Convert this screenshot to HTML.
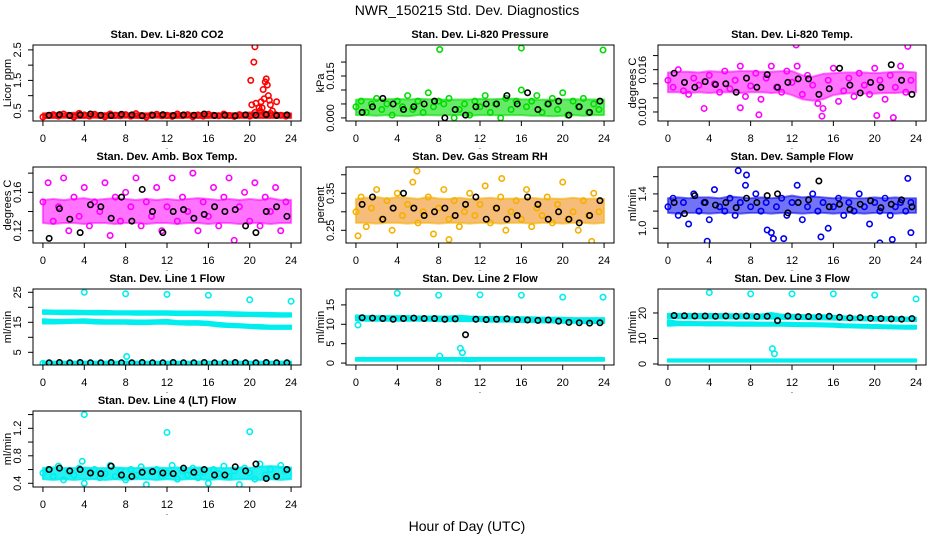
<!DOCTYPE html>
<html><head><meta charset="utf-8">
<style>
html,body{margin:0;padding:0;background:#fff;}
svg{display:block;font-family:"Liberation Sans",Arial,sans-serif;}
</style></head>
<body>
<svg id="chart" width="936" height="540" viewBox="0 0 936 540" xmlns="http://www.w3.org/2000/svg">
<text x="467" y="15" font-size="14" text-anchor="middle">NWR_150215  Std. Dev. Diagnostics</text>
<text x="467" y="531" font-size="14" text-anchor="middle">Hour of Day (UTC)</text>
</svg>
<script>
// ---------- data ----------
const xTicks = [0,4,8,12,16,20,24];
const xTickLabels = ["0","4","8","12","16","20","24"];

const co2Red = [0.3,0.35,0.38,0.33,0.4,0.36,0.3,0.42,0.37,0.33,0.39,0.35,0.31,0.4,0.36,0.34,0.38,0.33,0.41,0.35,0.3,0.37,0.39,0.34,0.36,0.32,0.4,0.35,0.38,0.31,0.37,0.33,0.39,0.36,0.34,0.4,0.35,0.32,0.38,0.36,0.33,0.45,0.5,0.4,0.42,0.38,0.36,0.33];
const co2Black = [0.36,0.38,0.35,0.37,0.4,0.36,0.35,0.39,0.37,0.34,0.36,0.38,0.35,0.37,0.36,0.4,0.35,0.36,0.34,0.37,0.36,0.38,0.35,0.37];
const co2BandLo = [0.27,0.27,0.28,0.27,0.27,0.28,0.27,0.27,0.28,0.27,0.27,0.28,0.27,0.27,0.28,0.27,0.27,0.28,0.27,0.27,0.28,0.27,0.27,0.28,0.27];
const co2BandHi = [0.42,0.43,0.42,0.44,0.43,0.42,0.43,0.44,0.42,0.43,0.42,0.43,0.42,0.43,0.42,0.43,0.43,0.42,0.43,0.42,0.45,0.46,0.44,0.43,0.42];
const co2OutHours = [20.1,20.2,20.4,20.5,20.6,20.9,21.1,21.3,21.5,21.6,21.7,21.8,21.9,22.0,22.2,22.6,21.4,21.2];
const co2OutVals = [1.5,0.7,2.1,2.6,0.75,0.6,0.8,1.2,1.45,1.55,1.35,1.0,0.85,0.7,0.5,0.8,0.9,0.6];
const co2YTicks = [0.5,1.0,1.5,2.0,2.5];
const co2YLabels = ["0.5","","1.5","","2.5"];

const presGreen = [0.004,0.006,0.002,0.005,0.007,0.003,0.005,0.001,0.006,0.004,0.008,0.003,0.006,0.002,0.009,0.004,0.006,0.005,0.007,0.0,0.003,0.005,0.001,0.006,0.004,0.008,0.002,0.005,0.0,0.007,0.003,0.006,0.01,0.004,0.006,0.008,0.002,0.005,0.007,0.003,0.009,0.001,0.006,0.004,0.007,0.002,0.005,0.003];
const presBlack = [0.002,0.004,0.007,0.005,0.003,0.004,0.005,0.006,0.0,0.003,0.001,0.004,0.005,0.005,0.008,0.005,0.009,0.003,0.005,0.006,0.001,0.004,0.002,0.006];
const presBandLo = [0.001,0.001,0.0008,0.001,0.0008,0.0006,0.001,0.001,0.0009,0.001,0.001,0.0008,0.001,0.001,0.0009,0.001,0.001,0.0008,0.0008,0.0006,0.0008,0.001,0.0008,0.001,0.001];
const presBandHi = [0.0065,0.0068,0.0066,0.0067,0.0068,0.0066,0.0068,0.0067,0.0066,0.0065,0.0066,0.0066,0.0068,0.0067,0.0068,0.0069,0.0067,0.0066,0.0065,0.0065,0.0066,0.0067,0.0066,0.0066,0.0066];
const presOutHours = [8.1,16,23.9];
const presOutVals = [0.0245,0.025,0.0243];
const presYTicks = [0.0,0.005,0.010,0.015,0.020];
const presYLabels = ["0.000","","","0.015",""];

const tempMag = [0.0145,0.0135,0.016,0.013,0.0125,0.0148,0.0138,0.0105,0.0152,0.014,0.0128,0.0158,0.0133,0.0145,0.0165,0.0122,0.0137,0.0155,0.0118,0.0148,0.0165,0.0135,0.0128,0.0158,0.0142,0.0165,0.0125,0.0152,0.0138,0.0112,0.0105,0.0145,0.0162,0.0115,0.013,0.0148,0.0122,0.0155,0.0138,0.0125,0.0162,0.0145,0.0118,0.0152,0.0135,0.0165,0.0128,0.0145];
const tempBlack = [0.0155,0.0142,0.0135,0.0143,0.0139,0.014,0.0128,0.0148,0.0135,0.0153,0.0135,0.0142,0.0147,0.0147,0.0125,0.0133,0.0162,0.0138,0.0127,0.0142,0.0135,0.0167,0.0145,0.0125];
const tempBandLo = [0.0128,0.0128,0.0127,0.0128,0.0127,0.0128,0.0128,0.0127,0.0128,0.0128,0.0127,0.0128,0.0124,0.0118,0.0116,0.0118,0.0124,0.0126,0.0127,0.0126,0.0126,0.0127,0.0127,0.0128,0.0128];
const tempBandHi = [0.0156,0.0157,0.0157,0.0156,0.0158,0.0157,0.0157,0.0158,0.0158,0.0157,0.0157,0.0158,0.0158,0.0152,0.015,0.0154,0.0155,0.0156,0.0156,0.0156,0.0155,0.0156,0.0157,0.0157,0.0156];
const tempOutHours = [12.4,23.2,21.8,20.2,8.8,14.9,7.0];
const tempOutVals = [0.0195,0.0193,0.0092,0.0095,0.0096,0.0094,0.0106];
const tempYTicks = [0.010,0.012,0.014,0.016,0.018];
const tempYLabels = ["0.010","","","0.016",""];

const ambMag = [0.15,0.17,0.13,0.145,0.175,0.12,0.155,0.135,0.165,0.125,0.15,0.14,0.17,0.115,0.155,0.13,0.16,0.145,0.175,0.125,0.15,0.135,0.165,0.12,0.145,0.175,0.13,0.155,0.14,0.18,0.12,0.15,0.135,0.165,0.125,0.155,0.175,0.11,0.145,0.16,0.13,0.17,0.125,0.155,0.14,0.165,0.12,0.15];
const ambBlack = [0.112,0.143,0.132,0.118,0.147,0.145,0.133,0.155,0.13,0.163,0.14,0.118,0.14,0.142,0.133,0.137,0.145,0.14,0.142,0.125,0.118,0.14,0.145,0.135];
const ambBandLo = [0.128,0.127,0.128,0.128,0.127,0.128,0.128,0.127,0.128,0.128,0.127,0.128,0.128,0.127,0.128,0.128,0.127,0.128,0.128,0.127,0.128,0.128,0.127,0.128,0.128];
const ambBandHi = [0.152,0.153,0.152,0.153,0.154,0.152,0.153,0.154,0.153,0.152,0.153,0.152,0.153,0.152,0.153,0.154,0.153,0.152,0.153,0.152,0.153,0.152,0.154,0.152,0.152];
const ambYTicks = [0.12,0.14,0.16,0.18];
const ambYLabels = ["0.12","","0.16",""];

const rhOrange = [0.3,0.34,0.26,0.31,0.36,0.28,0.33,0.25,0.35,0.29,0.32,0.38,0.27,0.3,0.34,0.24,0.31,0.36,0.28,0.33,0.26,0.3,0.35,0.29,0.32,0.37,0.27,0.31,0.34,0.25,0.3,0.33,0.28,0.36,0.26,0.31,0.29,0.34,0.27,0.32,0.38,0.28,0.3,0.25,0.33,0.29,0.35,0.3];
const rhBlack = [0.32,0.34,0.28,0.31,0.35,0.31,0.29,0.3,0.31,0.29,0.32,0.34,0.28,0.31,0.28,0.29,0.34,0.32,0.28,0.3,0.28,0.27,0.29,0.33];
const rhBandLo = [0.27,0.27,0.268,0.27,0.27,0.268,0.27,0.27,0.268,0.27,0.27,0.268,0.27,0.27,0.268,0.27,0.27,0.268,0.27,0.27,0.268,0.27,0.27,0.268,0.27];
const rhBandHi = [0.335,0.338,0.34,0.335,0.34,0.338,0.335,0.34,0.336,0.335,0.338,0.335,0.336,0.338,0.335,0.336,0.335,0.338,0.335,0.336,0.335,0.338,0.335,0.336,0.335];
const rhOutHours = [0.2,9.0,22.8,14.1,5.9];
const rhOutVals = [0.235,0.225,0.22,0.39,0.41];
const rhYTicks = [0.25,0.30,0.35,0.40];
const rhYLabels = ["0.25","","0.35",""];

const flowBlue = [1.25,1.35,1.15,1.3,1.05,1.4,1.2,1.3,1.1,1.45,1.25,1.2,1.35,1.15,1.3,1.5,1.25,1.4,1.2,1.3,0.95,1.25,1.35,1.15,1.3,1.5,1.1,1.25,1.4,1.2,1.3,1.0,1.25,1.35,1.15,1.3,1.2,1.4,1.25,1.05,1.3,1.2,1.35,1.15,1.25,1.3,1.2,1.3];
const flowBlack = [1.3,1.17,1.38,1.3,1.27,1.3,1.24,1.35,1.3,1.38,1.4,1.18,1.3,1.33,1.55,1.25,1.28,1.22,1.28,1.32,1.24,1.28,1.33,1.25];
const flowBandLo = [1.18,1.17,1.18,1.18,1.17,1.18,1.18,1.17,1.18,1.18,1.17,1.18,1.18,1.17,1.18,1.18,1.17,1.18,1.18,1.17,1.18,1.18,1.17,1.18,1.18];
const flowBandHi = [1.35,1.36,1.35,1.36,1.36,1.35,1.37,1.36,1.35,1.36,1.35,1.36,1.38,1.36,1.37,1.36,1.35,1.36,1.35,1.35,1.36,1.35,1.36,1.35,1.35];
const flowOutHours = [3.8,6.8,7.6,9.6,10.2,11.2,14.8,20.5,21.7,23.2,23.5];
const flowOutVals = [0.85,1.67,1.62,0.98,0.88,0.88,0.9,0.83,0.87,1.58,0.95];
const flowYTicks = [1.0,1.2,1.4,1.6];
const flowYLabels = ["1.0","","1.4",""];

const l1TopLo = [17.8,17.8,17.7,17.7,17.7,17.6,17.6,17.6,17.6,17.5,17.5,17.5,17.5,17.4,17.4,17.4,17.3,17.3,17.2,17.1,17.1,17.0,16.9,16.9,16.9];
const l1TopHi = [19.0,18.9,18.9,18.9,18.8,18.8,18.8,18.7,18.7,18.7,18.7,18.7,18.7,18.6,18.6,18.6,18.5,18.5,18.4,18.3,18.2,18.2,18.1,18.0,18.0];
const l1MidLo = [14.6,14.6,14.7,14.8,14.8,14.6,14.5,14.5,14.5,14.4,14.4,14.5,14.5,14.3,14.2,14.2,14.0,13.6,13.4,13.3,13.1,12.9,12.8,12.8,12.8];
const l1MidHi = [16.0,15.8,15.8,15.9,16.0,15.8,15.7,15.7,15.7,15.6,15.6,15.7,15.8,15.4,15.4,15.4,15.2,14.8,14.5,14.4,14.2,14.1,13.9,13.9,13.9];
const l1LowLo = [1.0,1.0,1.0,1.0,1.0,1.0,1.0,1.0,1.0,1.0,1.0,1.0,1.0,1.0,1.0,1.0,1.0,1.0,1.0,1.0,1.0,1.0,1.0,1.0,1.0];
const l1LowHi = [1.9,1.9,1.9,1.9,1.9,1.9,1.9,1.9,1.9,1.9,1.9,1.9,1.9,1.9,1.9,1.9,1.9,1.9,1.9,1.9,1.9,1.9,1.9,1.9,1.9];
const l1OutHours = [4,8,12,16,20,24,8.1,0];
const l1OutVals = [25,24.5,24.3,24,22.5,22,3.6,1.3];
const l1Black = [1.5,1.6,1.5,1.6,1.5,1.5,1.6,1.5,1.5,1.6,1.5,1.5,1.6,1.5,1.5,1.6,1.5,1.5,1.6,1.5,1.5,1.6,1.5,1.5];
const l1YTicks = [5,10,15,20,25];
const l1YLabels = ["5","","15","","25"];

const l2TopLo = [11.0,10.9,10.9,10.9,10.9,10.9,10.9,10.9,10.8,10.8,10.8,10.8,10.8,10.7,10.7,10.7,10.6,10.6,10.5,10.5,10.4,10.4,10.3,10.3,10.3];
const l2TopHi = [12.3,12.1,12.1,12.1,12.1,12.1,12.0,12.0,12.0,12.0,12.2,12.0,11.9,11.9,11.9,11.8,11.8,11.8,11.7,11.7,11.7,11.6,11.6,11.6,11.6];
const l2LowLo = [0.6,0.6,0.6,0.6,0.6,0.6,0.6,0.6,0.6,0.6,0.6,0.5,0.6,0.6,0.6,0.6,0.6,0.6,0.6,0.6,0.6,0.6,0.6,0.6,0.6];
const l2LowHi = [1.3,1.3,1.3,1.3,1.3,1.3,1.3,1.3,1.3,1.3,1.3,1.3,1.3,1.3,1.3,1.3,1.3,1.3,1.3,1.3,1.3,1.3,1.3,1.3,1.3];
const l2OutHours = [4,8,12,16,20,23.9,10.1,10.3,0.2,8.1];
const l2OutVals = [18,17.5,17.6,17.5,17,17,3.8,2.7,9.8,1.8];
const l2Black = [11.7,11.6,11.5,11.3,11.5,11.6,11.5,11.5,11.3,11.4,7.3,11.3,11.2,11.3,11.4,11.2,11.1,11.0,11.1,10.8,10.5,10.4,10.3,10.4];
const l2YTicks = [0,5,10,15];
const l2YLabels = ["0","5","10","15"];

const l3TopLo = [18.0,18.0,17.9,17.9,17.9,17.9,17.9,17.9,17.8,17.8,17.8,17.7,17.7,17.6,17.5,17.5,17.4,17.3,17.2,17.1,17.0,17.0,16.9,16.8,16.8];
const l3TopHi = [19.7,19.6,19.6,19.6,19.6,19.6,19.5,19.5,19.5,19.4,20.0,19.3,19.3,19.2,19.1,19.1,18.9,18.7,18.6,18.5,18.4,18.4,18.3,18.2,18.2];
const l3MidLo = [15.0,15.2,15.2,15.2,15.1,15.1,15.1,15.0,15.0,15.0,15.0,15.0,14.9,14.8,14.8,14.7,14.6,14.4,14.3,14.2,14.1,14.0,13.9,13.8,13.8];
const l3MidHi = [17.2,16.5,16.5,16.4,16.4,16.4,16.3,16.3,16.3,16.2,16.2,16.2,16.1,16.0,16.0,15.9,15.8,15.6,15.5,15.4,15.3,15.2,15.1,15.0,15.0];
const l3LowLo = [0.9,0.9,0.9,0.9,0.9,0.9,0.9,0.9,0.9,0.9,0.9,0.9,0.9,0.9,0.9,0.9,0.9,0.9,0.9,0.9,0.9,0.9,0.9,0.9,0.9];
const l3LowHi = [1.8,1.8,1.8,1.8,1.8,1.8,1.8,1.8,1.8,1.8,1.8,1.8,1.8,1.8,1.8,1.8,1.8,1.8,1.8,1.8,1.8,1.8,1.8,1.8,1.8];
const l3OutHours = [4,8,12,16,20,24,10.1,10.3];
const l3OutVals = [28,27.5,27.5,27.5,27,25.5,6,4];
const l3Black = [19,18.9,18.8,18.8,18.7,18.8,18.7,18.8,18.6,18.7,17,18.8,18.5,18.6,18.6,18.7,18.3,18.1,18.2,17.9,17.8,17.7,17.6,17.8];
const l3YTicks = [0,10,20,30];
const l3YLabels = ["0","10","20",""];

const l4Cyan = [0.55,0.6,0.5,0.65,0.45,0.58,0.52,0.62,0.4,0.56,0.6,0.48,0.54,0.66,0.5,0.58,0.45,0.6,0.52,0.64,0.38,0.56,0.6,0.5,0.55,0.66,0.46,0.58,0.52,0.62,0.48,0.56,0.4,0.6,0.54,0.65,0.5,0.58,0.38,0.62,0.55,0.46,0.68,0.52,0.6,0.5,0.66,0.58];
const l4Black = [0.6,0.62,0.58,0.6,0.55,0.54,0.65,0.52,0.5,0.56,0.57,0.55,0.54,0.62,0.56,0.6,0.52,0.52,0.64,0.58,0.68,0.47,0.5,0.6];
const l4BandLo = [0.46,0.45,0.46,0.45,0.46,0.46,0.45,0.46,0.45,0.46,0.46,0.45,0.46,0.45,0.46,0.46,0.45,0.46,0.45,0.46,0.46,0.45,0.46,0.45,0.46];
const l4BandHi = [0.62,0.63,0.62,0.62,0.63,0.62,0.62,0.63,0.62,0.62,0.62,0.63,0.62,0.63,0.62,0.63,0.62,0.62,0.62,0.63,0.62,0.64,0.65,0.64,0.63];
const l4OutHours = [4,12,20,3.8];
const l4OutVals = [1.4,1.14,1.15,0.72];
const l4YTicks = [0.4,0.6,0.8,1.0,1.2,1.4];
const l4YLabels = ["0.4","","0.8","","1.2",""];

// ---------- layout (not data) ----------
const colLeft = [33, 346, 658];
const rowTop = [45, 167, 289, 411];
const boxW = 268, boxH = 76;

const panels = [
 {name:"co2", title:"Stan. Dev. Li-820 CO2", ylab:"Licor ppm", c:0, r:0, y0:0.17, y1:2.66, color:"#ff0000", op:0.8,
  bands:[[co2BandLo,co2BandHi]], main:co2Red, outH:co2OutHours, outV:co2OutVals, black:co2Black, yt:co2YTicks, yl:co2YLabels},
 {name:"pressure", title:"Stan. Dev. Li-820 Pressure", ylab:"kPa", c:1, r:0, y0:-0.0011, y1:0.0261, color:"#00dd00", op:0.6,
  bands:[[presBandLo,presBandHi]], main:presGreen, outH:presOutHours, outV:presOutVals, black:presBlack, yt:presYTicks, yl:presYLabels},
 {name:"temp", title:"Stan. Dev. Li-820 Temp.", ylab:"degrees C", c:2, r:0, y0:0.00872, y1:0.0195, color:"#ff00ff", op:0.55,
  bands:[[tempBandLo,tempBandHi]], main:tempMag, outH:tempOutHours, outV:tempOutVals, black:tempBlack, yt:tempYTicks, yl:tempYLabels},
 {name:"amb-box-temp", title:"Stan. Dev. Amb. Box Temp.", ylab:"degrees C", c:0, r:1, y0:0.1072, y1:0.1864, color:"#ff00ff", op:0.55,
  bands:[[ambBandLo,ambBandHi]], main:ambMag, outH:[], outV:[], black:ambBlack, yt:ambYTicks, yl:ambYLabels},
 {name:"gas-rh", title:"Stan. Dev. Gas Stream RH", ylab:"percent", c:1, r:1, y0:0.2157, y1:0.421, color:"#f5b000", fill:"#f09020", op:0.6,
  bands:[[rhBandLo,rhBandHi]], main:rhOrange, outH:rhOutHours, outV:rhOutVals, black:rhBlack, yt:rhYTicks, yl:rhYLabels},
 {name:"sample-flow", title:"Stan. Dev. Sample Flow", ylab:"ml/min", c:2, r:1, y0:0.829, y1:1.713, color:"#0000ee", op:0.55,
  bands:[[flowBandLo,flowBandHi]], main:flowBlue, outH:flowOutHours, outV:flowOutVals, black:flowBlack, yt:flowYTicks, yl:flowYLabels},
 {name:"line1-flow", title:"Stan. Dev. Line 1 Flow", ylab:"ml/min", c:0, r:2, y0:0.77, y1:26.1, color:"#00eeee", op:1,
  bands:[[l1TopLo,l1TopHi],[l1MidLo,l1MidHi],[l1LowLo,l1LowHi]], main:[], outH:l1OutHours, outV:l1OutVals, black:l1Black, yt:l1YTicks, yl:l1YLabels},
 {name:"line2-flow", title:"Stan. Dev. Line 2 Flow", ylab:"ml/min", c:1, r:2, y0:-0.5, y1:19.1, color:"#00eeee", op:1,
  bands:[[l2TopLo,l2TopHi],[l2LowLo,l2LowHi]], main:[], outH:l2OutHours, outV:l2OutVals, black:l2Black, yt:l2YTicks, yl:l2YLabels},
 {name:"line3-flow", title:"Stan. Dev. Line 3 Flow", ylab:"ml/min", c:2, r:2, y0:-0.4, y1:29.4, color:"#00eeee", op:1,
  bands:[[l3TopLo,l3TopHi],[l3MidLo,l3MidHi],[l3LowLo,l3LowHi]], main:[], outH:l3OutHours, outV:l3OutVals, black:l3Black, yt:l3YTicks, yl:l3YLabels},
 {name:"line4-flow", title:"Stan. Dev. Line 4 (LT) Flow", ylab:"ml/min", c:0, r:3, y0:0.346, y1:1.452, color:"#00eeee", op:0.85,
  bands:[[l4BandLo,l4BandHi]], main:l4Cyan, outH:l4OutHours, outV:l4OutVals, black:l4Black, yt:l4YTicks, yl:l4YLabels}
];

const NS = "http://www.w3.org/2000/svg";
const svg = document.getElementById("chart");
function mk(tag, attrs, parent){
  const e = document.createElementNS(NS, tag);
  for (const k in attrs) e.setAttribute(k, attrs[k]);
  (parent||svg).appendChild(e);
  return e;
}

panels.forEach(p => {
  const L = colLeft[p.c], T = rowTop[p.r], B = T + boxH, R = L + boxW;
  const xs = h => L + (h + 0.96) / 25.92 * boxW;
  const ys = v => B - (v - p.y0) / (p.y1 - p.y0) * boxH;

  const g = mk("g", {});
  
  

  const t = mk("text", {x:(L+R)/2, y:T-7, "font-size":11, "font-weight":"bold", "text-anchor":"middle"}, g);
  t.textContent = p.title;
  
  

  const clip = mk("clipPath", {id:"clip-"+p.name}, g);
  mk("rect", {x:L, y:T, width:boxW, height:boxH}, clip);
  const plot = mk("g", {"clip-path":"url(#clip-"+p.name+")"}, g);
  
  

  // dense bands
  p.bands.forEach(b => {
    const lo = b[0], hi = b[1], n = lo.length;
    let pts = [];
    for (let i=0;i<n;i++) pts.push(xs(i*24/(n-1)) + "," + ys(hi[i]));
    for (let i=n-1;i>=0;i--) pts.push(xs(i*24/(n-1)) + "," + ys(lo[i]));
    const poly = mk("polygon", {points:pts.join(" "), fill:p.fill||p.color, "fill-opacity":p.op, stroke:p.color, "stroke-opacity":p.op, "stroke-width":2, "stroke-linejoin":"round"}, plot);
    
    
  });
  // main colored points
  p.main.forEach((v,i) => {
    const c = mk("circle", {cx:xs(i*0.5), cy:ys(v), r:2.7, fill:"none", stroke:p.color, "stroke-width":1.6}, plot);
    
    
  });
  p.outH.forEach((h,i) => {
    const c = mk("circle", {cx:xs(h), cy:ys(p.outV[i]), r:2.7, fill:"none", stroke:p.color, "stroke-width":1.6}, plot);
    
    
  });
  p.black.forEach((v,i) => {
    const c = mk("circle", {cx:xs(i+0.6), cy:ys(v), r:2.7, fill:"none", stroke:"#000", "stroke-width":1.6}, plot);
    
    
  });

  const box = mk("rect", {x:L, y:T, width:boxW, height:boxH, fill:"none", stroke:"#000", "stroke-width":1}, g);
  
  

  // x axis
  const xa = mk("g", {}, g);
  
  
  mk("line", {x1:xs(xTicks[0]), x2:xs(xTicks[xTicks.length-1]), y1:B, y2:B, stroke:"#000"}, xa);
  xTicks.forEach((h,i) => {
    mk("line", {x1:xs(h), x2:xs(h), y1:B, y2:B+5, stroke:"#000"}, xa);
    const tl = mk("text", {x:xs(h), y:B+21, "font-size":11, "text-anchor":"middle"}, xa);
    tl.textContent = xTickLabels[i];
    
    
  });
  const dot = mk("text", {x:(L+R)/2, y:B+28, "font-size":8, "text-anchor":"middle"}, xa);
  dot.textContent = ".";

  // y axis
  const ya = mk("g", {}, g);
  
  
  const yv = p.yt.filter(v => ys(v) >= T-1 && ys(v) <= B+1);
  mk("line", {x1:L, x2:L, y1:ys(yv[0]), y2:ys(yv[yv.length-1]), stroke:"#000"}, ya);
  p.yt.forEach((v,i) => {
    const yy = ys(v);
    if (yy < T-1 || yy > B+1) return;
    mk("line", {x1:L-5, x2:L, y1:yy, y2:yy, stroke:"#000"}, ya);
    if (p.yl[i]) {
      const tl = mk("text", {x:0, y:0, "font-size":11, "text-anchor":"middle", transform:"translate("+(L-12)+","+yy+") rotate(-90)"}, ya);
      tl.textContent = p.yl[i];
      
      
    }
  });
  const yt = mk("text", {x:0, y:0, "font-size":11, "text-anchor":"middle", transform:"translate("+(L-22)+","+(T+boxH/2)+") rotate(-90)"}, ya);
  yt.textContent = p.ylab;
  
  
});
</script>
</body></html>
